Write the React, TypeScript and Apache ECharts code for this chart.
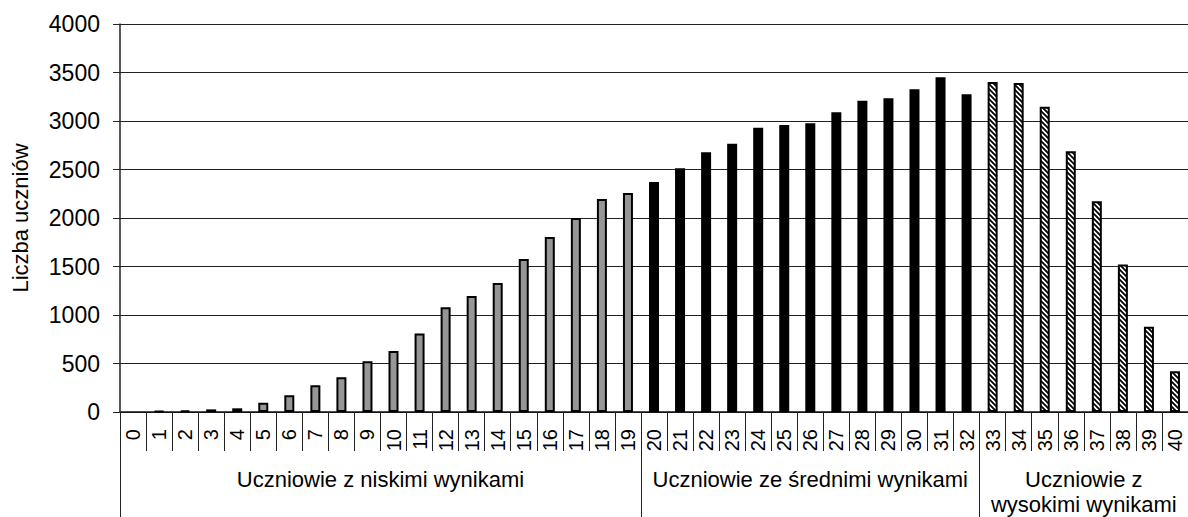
import React, { useEffect, useRef } from "react";
import * as echarts from "echarts";

const scores: string[] = [
  "0", "1", "2", "3", "4", "5", "6", "7", "8", "9", "10",
  "11", "12", "13", "14", "15", "16", "17", "18", "19", "20",
  "21", "22", "23", "24", "25", "26", "27", "28", "29", "30",
  "31", "32", "33", "34", "35", "36", "37", "38", "39", "40",
];

const students: number[] = [
  0, 8, 14, 27, 38, 96, 172, 275, 358, 523, 629,
  808, 1080, 1195, 1330, 1578, 1804, 2000, 2195, 2258, 2371,
  2512, 2677, 2766, 2931, 2959, 2976, 3090, 3210, 3234, 3327,
  3450, 3275, 3402, 3392, 3148, 2688, 2172, 1520, 880, 420,
];

// group boundaries (in score units): low 0-19, mid 20-32, high 33-40
const groupStarts: number[] = [0, 20, 33, 41];
const groupNames: string[] = [
  "Uczniowie z niskimi wynikami",
  "Uczniowie ze średnimi wynikami",
  "Uczniowie z\nwysokimi wynikami",
];

const yTicks: number[] = [0, 500, 1000, 1500, 2000, 2500, 3000, 3500, 4000];

const FONT = '"Liberation Sans", Arial, Helvetica, sans-serif';

function makeHatch(): HTMLCanvasElement {
  const s = 5;
  const c = document.createElement("canvas");
  c.width = s;
  c.height = s;
  const ctx = c.getContext("2d")!;
  ctx.fillStyle = "#ffffff";
  ctx.fillRect(0, 0, s, s);
  ctx.strokeStyle = "#000000";
  ctx.lineWidth = 1.8;
  ctx.beginPath();
  ctx.moveTo(-1, -1);
  ctx.lineTo(s + 1, s + 1);
  ctx.moveTo(-1, s - 1);
  ctx.lineTo(1, s + 1);
  ctx.moveTo(s - 1, -1);
  ctx.lineTo(s + 1, 1);
  ctx.stroke();
  return c;
}

export default function App() {
  const ref = useRef<HTMLDivElement>(null);

  useEffect(() => {
    if (!ref.current) return;
    const chart = echarts.init(ref.current, undefined, { renderer: "svg" });

    const inGroup = (g: number) =>
      students.map((v, i) => {
        if (!(i >= groupStarts[g] && i < groupStarts[g + 1])) return "-";
        return v === 0 ? { value: v, itemStyle: { borderWidth: 0 } } : v;
      });

    const groupCenters = groupNames.map((_, g) => (groupStarts[g] + groupStarts[g + 1]) / 2);

    const hatch = { image: makeHatch(), repeat: "repeat" as const };

    const barCommon = {
      type: "bar" as const,
      stack: "all",
      barWidth: 10,
      xAxisIndex: 0,
      yAxisIndex: 0,
    };

    chart.setOption({
      animation: false,
      backgroundColor: "#ffffff",
      textStyle: { fontFamily: FONT, color: "#000" },
      grid: { left: 120, right: -7, top: 24, bottom: 105, containLabel: false },
      xAxis: [
        {
          type: "category",
          data: scores,
          position: "bottom",
          boundaryGap: true,
          axisLine: { show: true, lineStyle: { color: "#111", width: 1.5 } },
          axisTick: {
            show: true,
            interval: 0,
            alignWithLabel: false,
            length: 39,
            lineStyle: { color: "#222", width: 1 },
          },
          axisLabel: {
            interval: 0,
            rotate: 90,
            margin: 17,
            fontSize: 20,
            color: "#000",
            fontFamily: FONT,
          },
          splitLine: { show: false },
        },
        {
          type: "value",
          min: 0,
          max: 41,
          position: "bottom",
          offset: 39,
          axisLine: { show: false },
          splitLine: { show: false },
          axisTick: {
            show: true,
            customValues: groupStarts,
            length: 70,
            lineStyle: { color: "#222", width: 1 },
          },
          axisLabel: {
            show: true,
            customValues: groupCenters,
            margin: 16,
            fontSize: 22,
            lineHeight: 25,
            color: "#000",
            fontFamily: FONT,
            formatter: (v: number) => {
              const idx = groupCenters.findIndex((c) => Math.abs(c - v) < 1e-6);
              return idx >= 0 ? groupNames[idx] : "";
            },
          },
        },
      ],
      yAxis: {
        type: "value",
        min: 0,
        max: 4000,
        interval: 500,
        name: "Liczba uczniów",
        nameLocation: "middle",
        nameRotate: 90,
        nameGap: 89,
        nameTextStyle: { fontSize: 22, color: "#000", fontFamily: FONT },
        axisLine: { show: true, lineStyle: { color: "#222", width: 1.5 } },
        axisTick: { show: true, length: 7, lineStyle: { color: "#222", width: 1 } },
        axisLabel: {
          margin: 20,
          fontSize: 23,
          color: "#000",
          fontFamily: FONT,
          customValues: yTicks,
          formatter: (v: number) => String(v),
        },
        splitLine: { show: true, lineStyle: { color: "#222", width: 1 } },
      },
      series: [
        {
          ...barCommon,
          name: groupNames[0],
          data: inGroup(0),
          itemStyle: { color: "#969696", borderColor: "#000", borderWidth: 2 },
        },
        {
          ...barCommon,
          name: groupNames[1],
          data: inGroup(1),
          itemStyle: { color: "#000", borderColor: "#000", borderWidth: 2 },
        },
        {
          ...barCommon,
          name: groupNames[2],
          data: inGroup(2),
          itemStyle: { color: hatch, borderColor: "#000", borderWidth: 2 },
        },
      ],
    });

    return () => chart.dispose();
  }, []);

  return (
    <div
      ref={ref}
      style={{ position: "absolute", left: 0, top: 0, width: 1188, height: 517 }}
    />
  );
}
